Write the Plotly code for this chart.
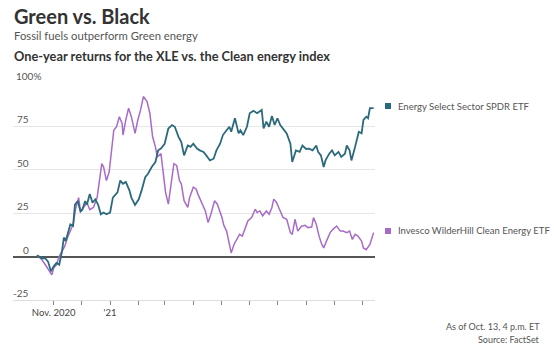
import pandas as pd
import plotly.graph_objects as go

# ---- data (days since 2020-10-14, % one-year return) ----
start_date = "2020-10-14"

xle_days = [0, 5, 9, 12, 15, 18, 21, 24, 27, 29, 31, 34, 36, 39, 41, 44, 47, 49, 52, 54,
            57, 60, 63, 66, 69, 72, 75, 79, 82, 87, 90, 93, 96, 100, 102, 106, 110, 113, 117, 120,
            124, 128, 131, 134, 138, 142, 146, 149, 153, 156, 159, 163, 166, 169, 173, 176, 180, 183, 187, 191,
            194, 198, 201, 205, 208, 210, 214, 218, 220, 223, 227, 230, 234, 238, 240, 243, 245, 248, 251, 254,
            257, 260, 263, 266, 270, 274, 276, 280, 284, 287, 291, 294, 298, 302, 304, 307, 310, 312, 316, 319,
            322, 326, 329, 333, 335, 338, 340, 343, 346, 348, 351, 353, 356, 358, 360, 364]
xle_vals = [0.8, -1, -1, -3, -8.5, -5.6, -3.7, -4.7, 3, 11, 9, 14.7, 18.6, 17.6, 30, 32, 26, 27, 32, 30,
            36, 31, 33, 30, 24.4, 25.4, 24.4, 25.4, 34, 37, 43.8, 41.9, 43, 38, 34, 29.8, 33, 38, 45.7, 47.7,
            51.6, 54.5, 61.2, 62.2, 65, 73.8, 75.8, 74.8, 69, 66, 58.3, 64, 63.2, 65, 62.2, 61.2, 60.3, 58.3, 55.4, 56.4,
            61.2, 65, 70, 72.8, 74.8, 71.9, 79.7, 71, 72.8, 70, 74.8, 82.6, 84, 82.6, 83.5, 84.5, 73.8, 77.7, 74.8, 81,
            75.8, 79.7, 75.8, 73.8, 71, 65, 54.5, 61.2, 60.3, 64, 62, 62.2, 61.2, 64, 60.3, 58.3, 51.6, 55.4, 59.3, 61.2,
            58.3, 60.3, 57.4, 59.3, 64, 61.2, 55.4, 61.2, 68, 71.9, 71, 78.7, 80.6, 79.7, 85.5, 85.5]

pbw_days = [0, 5, 9, 12, 16, 18, 21, 24, 27, 30, 33, 36, 39, 42, 45, 47, 50, 54, 57, 61,
            65, 67, 70, 72, 75, 78, 81, 83, 86, 89, 92, 93, 96, 99, 102, 106, 109, 112, 115, 119,
            122, 125, 128, 130, 134, 137, 139, 142, 146, 148, 151, 154, 156, 159, 163, 165, 169, 172, 174, 178,
            182, 185, 188, 192, 195, 200, 202, 205, 207, 210, 213, 216, 219, 222, 225, 228, 232, 236, 238, 241,
            244, 248, 251, 254, 256, 259, 263, 266, 270, 274, 276, 279, 282, 286, 290, 293, 297, 299, 302, 305,
            308, 310, 313, 317, 320, 324, 328, 331, 335, 338, 341, 344, 347, 351, 353, 356, 360, 364]
pbw_vals = [0.8, -1.7, -4.7, -7.5, -10.5, -6.6, -4.7, 0.2, 3, 6, 11, 14.7, 18.6, 28.3, 34, 26, 28.3, 31, 27, 28.3,
            34, 41.9, 53.5, 51.6, 43.8, 48.7, 61.2, 72.8, 74.8, 80.6, 76.7, 70, 78.7, 85.5, 80.6, 71, 78.7, 84.5, 92.2, 89.3,
            82.6, 69, 63.2, 57.4, 59.3, 43.8, 37, 30.2, 45.7, 53.5, 52.5, 43.8, 41.9, 32.2, 28.3, 34, 40, 39, 36, 31.2,
            26.3, 19.6, 24.4, 32.2, 30.2, 22.5, 18, 14.7, 8.9, 2.1, 7, 9.9, 12.8, 11.8, 16.7, 20.5, 22.5, 27.3, 25.4, 26.3,
            23.4, 26.3, 24.4, 28.3, 33.1, 31.2, 26.3, 22.5, 21.5, 13.8, 12.8, 21.5, 14.7, 17.5, 18, 16.7, 17, 22.5, 18.6, 11.8,
            7, 5, 8.9, 13.8, 15.7, 17.6, 14.7, 14.7, 13.8, 14.7, 9.9, 12.8, 11.8, 8.9, 5, 4, 7, 13.8]

tick_dates = ["2020-11-01", "2020-12-01", "2021-01-01", "2021-02-01", "2021-03-01", "2021-04-01",
              "2021-05-01", "2021-06-01", "2021-07-01", "2021-08-01", "2021-09-01", "2021-10-01"]
tick_text = ["Nov. 2020", "", "'21", "", "", "", "", "", "", "", "", ""]
y_ticks = [100, 75, 50, 25, 0, -25]
y_labels = ["100%", "75", "50", "25", "0", "-25"]

series_names = ["Energy Select Sector SPDR ETF", "Invesco WilderHill Clean Energy ETF"]
series_colors = ["#2b6a7c", "#a86cc8"]

# ---- figure ----
base = pd.Timestamp(start_date)
xle_x = base + pd.to_timedelta(xle_days, unit="D")
pbw_x = base + pd.to_timedelta(pbw_days, unit="D")

W, H = 554, 352
L, R, T, B = 13, 179, 83, 52
pw, ph = W - L - R, H - T - B

def px(x):
    return (x - L) / pw

def py(y):
    return (H - B - y) / ph

fig = go.Figure()
fig.add_trace(go.Scatter(x=pbw_x, y=pbw_vals, mode="lines", name=series_names[1],
                         line=dict(color=series_colors[1], width=1.5), showlegend=False))
fig.add_trace(go.Scatter(x=xle_x, y=xle_vals, mode="lines", name=series_names[0],
                         line=dict(color=series_colors[0], width=1.8), showlegend=False))

font_main = "Lato, 'Open Sans', sans-serif"
ann = []
ann.append(dict(text="<b>Green vs. Black</b>", x=px(12), y=py(16), xref="paper", yref="paper",
                xanchor="left", yanchor="middle", showarrow=False,
                font=dict(size=20, color="#333333", family=font_main)))
ann.append(dict(text="Fossil fuels outperform Green energy", x=px(12), y=py(36), xref="paper", yref="paper",
                xanchor="left", yanchor="middle", showarrow=False,
                font=dict(size=11.3, color="#555555", family=font_main)))
ann.append(dict(text="<b>One-year returns for the XLE vs. the Clean energy index</b>", x=px(12), y=py(56),
                xref="paper", yref="paper", xanchor="left", yanchor="middle", showarrow=False,
                font=dict(size=12.8, color="#333333", family=font_main)))
for v, lab in zip(y_ticks, y_labels):
    if lab.endswith("%"):
        ann.append(dict(text=lab, x=px(14), y=v, xref="paper", yref="y", xanchor="left", yanchor="middle",
                        yshift=7, showarrow=False, font=dict(size=10, color="#555555", family=font_main)))
    else:
        ann.append(dict(text=lab, x=px(31), y=v, xref="paper", yref="y", xanchor="right", yanchor="middle",
                        yshift=7, showarrow=False, font=dict(size=10, color="#555555", family=font_main)))
# legend labels
legend_y = [106, 231]
shapes = []
for name, col, ly in zip(series_names, series_colors, legend_y):
    ann.append(dict(text=name, x=px(396), y=py(ly), xref="paper", yref="paper", xanchor="left",
                    yanchor="middle", showarrow=False, font=dict(size=9.5, color="#555555", family=font_main)))
    shapes.append(dict(type="rect", xref="paper", yref="paper", x0=px(385), x1=px(391),
                       y0=py(ly + 3), y1=py(ly - 3), fillcolor=col, line=dict(width=0)))
ann.append(dict(text="As of Oct. 13, 4 p.m. ET", x=px(542), y=py(326), xref="paper", yref="paper",
                xanchor="right", yanchor="middle", showarrow=False,
                font=dict(size=9, color="#555555", family=font_main)))
ann.append(dict(text="Source: FactSet", x=px(542), y=py(339), xref="paper", yref="paper",
                xanchor="right", yanchor="middle", showarrow=False,
                font=dict(size=9, color="#555555", family=font_main)))

fig.update_layout(
    width=W, height=H, margin=dict(l=L, r=R, t=T, b=B),
    paper_bgcolor="white", plot_bgcolor="white",
    annotations=ann, shapes=shapes, showlegend=False,
    xaxis=dict(type="date", range=["2020-09-18", "2021-10-14 12:00"], tickvals=tick_dates, ticktext=tick_text,
               showgrid=False, zeroline=False, showline=True, linecolor="#dddddd", linewidth=1,
               ticks="outside", ticklen=4, tickcolor="#888888", tickwidth=1,
               tickfont=dict(size=9.5, color="#444444", family=font_main)),
    yaxis=dict(range=[-25, 100], tickvals=y_ticks, showticklabels=False, showgrid=True,
               gridcolor="#e6e6e6", gridwidth=1, zeroline=True, zerolinecolor="#555555", zerolinewidth=1.5,
               fixedrange=True),
)

fig.write_html("out.html")
